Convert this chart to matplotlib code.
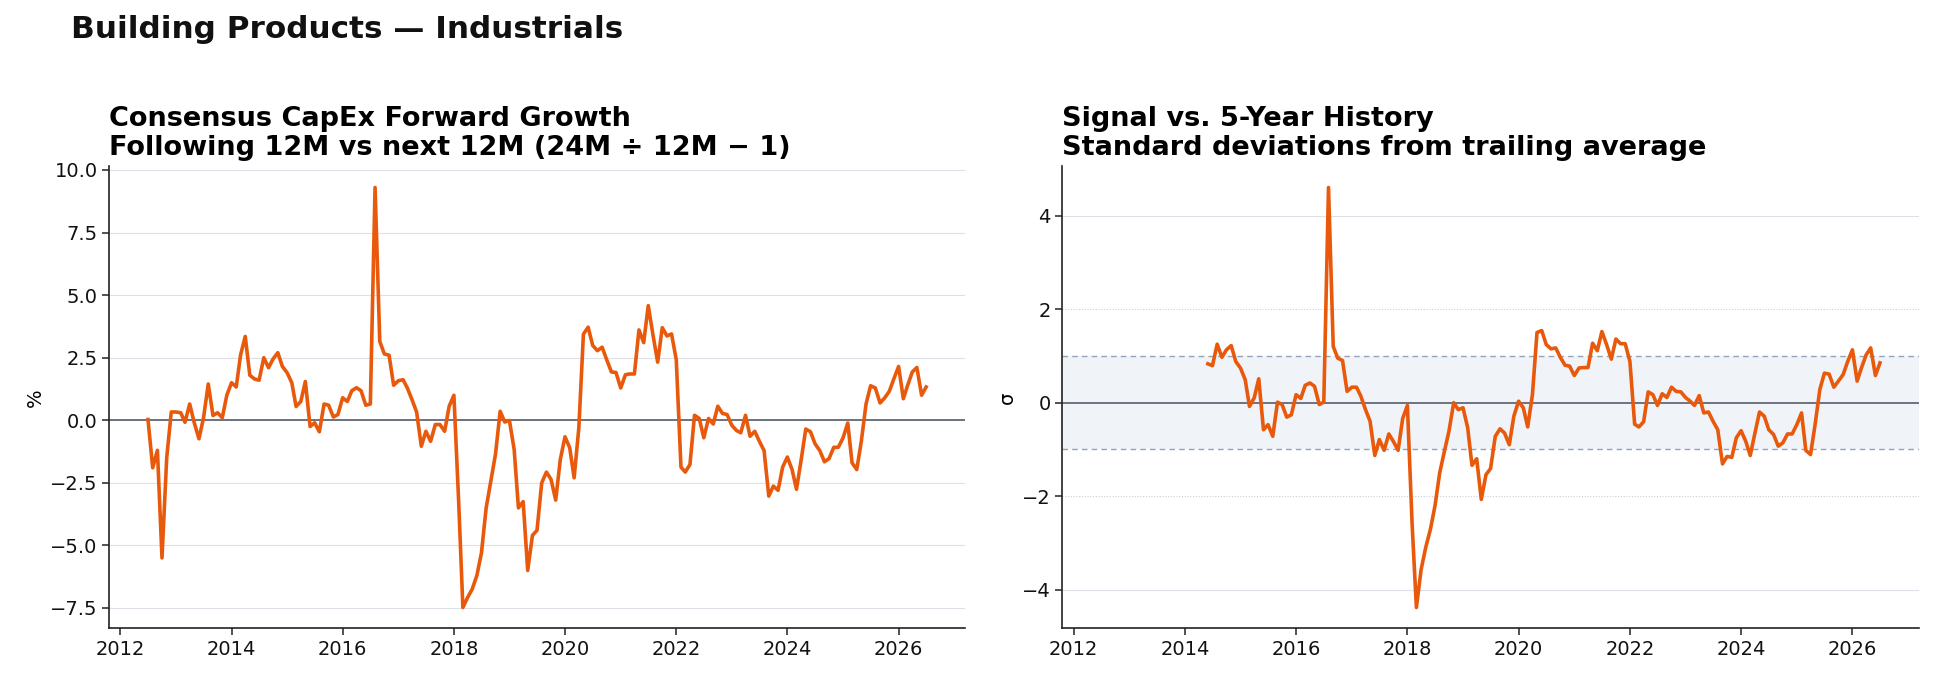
import matplotlib
matplotlib.use("Agg")
import matplotlib.pyplot as plt
import matplotlib.dates as mdates
import pandas as pd

# ---- data (monthly) ----
growth_start = "2012-07-01"
growth_pct = [
    0.03, -1.9, -1.2, -5.5, -1.5, 0.33, 0.33, 0.3, -0.08, 0.65,
    -0.1, -0.74, 0.1, 1.45, 0.19, 0.3, 0.1, 1.0, 1.5, 1.33,
    2.6, 3.35, 1.8, 1.65, 1.6, 2.5, 2.1, 2.45, 2.7, 2.15,
    1.9, 1.5, 0.55, 0.75, 1.55, -0.25, -0.1, -0.46, 0.65, 0.6,
    0.13, 0.23, 0.9, 0.75, 1.18, 1.3, 1.18, 0.6, 0.65, 9.3,
    3.15, 2.65, 2.6, 1.4, 1.58, 1.62,
    1.29, 0.82, 0.33, -1.04, -0.44, -0.84, -0.17, -0.17, -0.44, 0.56,
    1.0, -3.2, -7.48, -7.08, -6.75, -6.2, -5.3, -3.5, -2.43, -1.37,
    0.36, -0.07, -0.01, -1.17, -3.5, -3.25, -6.0, -4.6, -4.4, -2.5,
    -2.07, -2.36, -3.19, -1.57, -0.66, -1.1, -2.3, -0.3, 3.44, 3.72,
    2.99, 2.78, 2.92, 2.42, 1.93, 1.91, 1.29, 1.82, 1.85, 1.85,
    3.61, 3.1, 4.58, 3.41, 2.32, 3.7,
    3.37, 3.45, 2.42, -1.87, -2.07, -1.77, 0.2, 0.07, -0.7, 0.07,
    -0.15, 0.56, 0.27, 0.23, -0.2, -0.41, -0.5, 0.2, -0.64, -0.44,
    -0.84, -1.21, -3.03, -2.63, -2.8, -1.87, -1.47, -1.97, -2.76, -1.57,
    -0.35, -0.46, -0.94, -1.21, -1.66, -1.53, -1.08, -1.08, -0.7, -0.11,
    -1.7, -1.97, -0.84, 0.65, 1.38, 1.29, 0.69, 0.89, 1.16, 1.66,
    2.15, 0.86, 1.39, 1.93, 2.11, 1.0, 1.33,
]

zscore_start = "2014-06-01"
zscore_sigma = [
    0.83, 0.79, 1.25, 0.97, 1.13, 1.22, 0.88, 0.74, 0.49, -0.08,
    0.1, 0.51, -0.58, -0.47, -0.72, 0.01, -0.04, -0.31, -0.26, 0.17,
    0.09, 0.37, 0.42, 0.35, -0.04, 0.01, 4.6, 1.2, 0.95, 0.9,
    0.24, 0.33, 0.33, 0.14, -0.15, -0.4, -1.13, -0.79, -1.02, -0.67,
    -0.83, -1.02, -0.34, -0.06, -2.6, -4.38, -3.57, -3.1, -2.71, -2.21,
    -1.5, -1.04, -0.61, 0.0, -0.15, -0.11,
    -0.54, -1.34, -1.2, -2.07, -1.54, -1.41, -0.72, -0.56, -0.65, -0.9,
    -0.29, 0.03, -0.11, -0.52, 0.17, 1.5, 1.54, 1.24, 1.15, 1.17,
    0.97, 0.8, 0.78, 0.58, 0.74, 0.75, 0.75, 1.27, 1.11, 1.52,
    1.24, 0.93, 1.36, 1.26, 1.26, 0.88, -0.46, -0.52, -0.41, 0.23,
    0.17, -0.06, 0.19, 0.11, 0.33, 0.24, 0.23, 0.11, 0.03, -0.06,
    0.15, -0.22, -0.2, -0.4, -0.58, -1.31,
    -1.15, -1.17, -0.75, -0.6, -0.83, -1.13, -0.65, -0.2, -0.29, -0.58,
    -0.68, -0.93, -0.86, -0.67, -0.67, -0.47, -0.22, -1.02, -1.11, -0.47,
    0.28, 0.63, 0.61, 0.33, 0.46, 0.6, 0.88, 1.13, 0.46, 0.74,
    1.02, 1.17, 0.58, 0.85,
]

suptitle = "Building Products \u2014 Industrials"
left_title = "Consensus CapEx Forward Growth\nFollowing 12M vs next 12M (24M \u00f7 12M \u2212 1)"
right_title = "Signal vs. 5-Year History\nStandard deviations from trailing average"

growth_dates = pd.date_range(growth_start, periods=len(growth_pct), freq="MS")
zscore_dates = pd.date_range(zscore_start, periods=len(zscore_sigma), freq="MS")

# ---- style ----
LINE = "#e8590c"
ZERO = "#6b7280"
GRID = "#dde0e6"
BAND = "#f0f3f8"
BANDLINE = "#94a3b8"
INK = "#111111"

plt.rcParams["font.family"] = ["DejaVu Sans"]

fig = plt.figure(figsize=(19.34, 6.79), dpi=100)
ax1 = fig.add_axes([0.0564, 0.0744, 0.4426, 0.6804])
ax2 = fig.add_axes([0.5493, 0.0744, 0.4429, 0.6804])

for ax in (ax1, ax2):
    for s in ("top", "right"):
        ax.spines[s].set_visible(False)
    for s in ("left", "bottom"):
        ax.spines[s].set_linewidth(1.2)
        ax.spines[s].set_color("#222222")
    ax.tick_params(axis="both", labelsize=14, length=4.8, width=1.1, color="#222222", labelcolor=INK)
    ax.xaxis.set_major_locator(mdates.YearLocator(2))
    ax.xaxis.set_major_formatter(mdates.DateFormatter("%Y"))

# left panel
ax1.grid(axis="y", color=GRID, linewidth=0.8)
ax1.set_axisbelow(True)
ax1.axhline(0, color=ZERO, linewidth=1.4, zorder=2)
ax1.plot(growth_dates, growth_pct, color=LINE, linewidth=2.6, zorder=3)
ax1.set_ylabel("%", fontsize=14)
ax1.set_title(left_title, loc="left", fontsize=19.5, fontweight="bold", pad=8, linespacing=1.15)

# right panel
ax2.plot(zscore_dates, zscore_sigma, color=LINE, linewidth=2.6, zorder=3)
ax2.set_xlim(ax1.get_xlim())
ax2.axhspan(-1, 1, color=BAND, zorder=0, linewidth=0)
ax2.axhline(1, color=BANDLINE, linewidth=1.0, linestyle=(0, (4, 3)), zorder=1)
ax2.axhline(-1, color=BANDLINE, linewidth=1.0, linestyle=(0, (4, 3)), zorder=1)
ax2.axhline(2, color="#c9d0da", linewidth=0.8, linestyle=(0, (1, 1.5)), zorder=1)
ax2.axhline(-2, color="#c9d0da", linewidth=0.8, linestyle=(0, (1, 1.5)), zorder=1)
for v in (4, -4):
    ax2.axhline(v, color=GRID, linewidth=0.8, zorder=0.5)
ax2.axhline(0, color=ZERO, linewidth=1.4, zorder=2)
ax2.set_yticks([-4, -2, 0, 2, 4])
ax2.set_ylabel("\u03c3", fontsize=14)
ax2.set_title(right_title, loc="left", fontsize=19.5, fontweight="bold", pad=8, linespacing=1.15)

fig.text(0.0367, 0.944, suptitle, fontsize=22.4, fontweight="bold", color=INK, ha="left", va="baseline")

fig.savefig("out.png", dpi=100)
